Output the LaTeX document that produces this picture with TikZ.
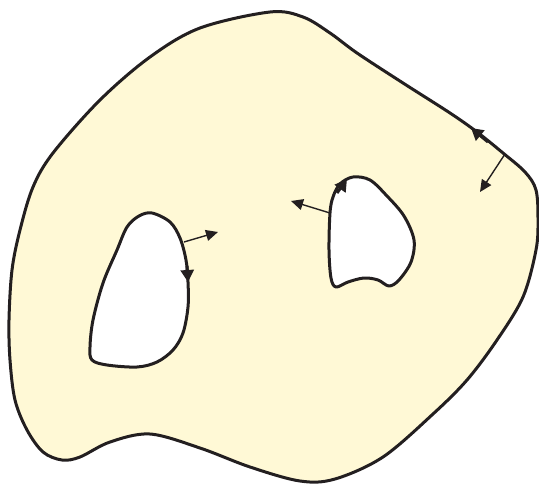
\documentclass[tikz,border=0pt]{standalone}
\usetikzlibrary{arrows.meta}
\definecolor{fillyellow}{RGB}{255,249,214}
\definecolor{ink}{RGB}{35,31,32}
\begin{document}
\begin{tikzpicture}[x=1pt,y=-1pt,
  boundary/.style={line width=3pt, draw=ink, line join=round},
  normalarrow/.style={line width=1.4pt, draw=ink, -{Triangle[length=12pt,width=11pt]}},
  tangentarrow/.style={line width=3pt, draw=ink, -{Triangle[length=12pt,width=13pt]}}]
\useasboundingbox (0,0) rectangle (539,485);
\def\outerpts{(270,12) (303,17) (330,33) (357,53) (403,83) (450,113) (477,132) (503,153) (525,172) (536,190) (538,220) (536,250) (523,297) (497,340) (467,380) (433,414) (383,457) (335,479) (300,481) (250,467) (200,448) (150,434) (110,442) (80,457) (62,460) (43,452) (27,430) (15,400) (10,360) (9,320) (12,270) (20,230) (33,187) (53,153) (100,100) (150,57) (200,28)}
\def\holeApts{(152,213) (170,222) (180,238) (186,260) (188,282) (188,307) (183,333) (173,350) (157,362) (137,367) (107,365) (92,360) (90,347) (93,320) (103,283) (117,250) (127,227) (139,216)}
\def\holeBpts{(353,177) (370,180) (387,196) (404,216) (414,240) (411,262) (399,280) (389,286) (378,280) (364,278) (348,282) (336,287) (331,278) (329,250) (330,213) (333,197) (340,184)}
\fill[fillyellow, even odd rule]
  plot[smooth cycle, tension=0.55] coordinates {\outerpts}
  plot[smooth cycle, tension=0.55] coordinates {\holeApts}
  plot[smooth cycle, tension=0.55] coordinates {\holeBpts};
\draw[boundary] plot[smooth cycle, tension=0.55] coordinates {\outerpts};
\draw[boundary] plot[smooth cycle, tension=0.55] coordinates {\holeApts};
\draw[boundary] plot[smooth cycle, tension=0.55] coordinates {\holeBpts};
% tangent arrows
\coordinate (tOs) at (488,142);
\coordinate (tOe) at (471,128);
\coordinate (tAs) at (187,266);
\coordinate (tAe) at (188,282);
\coordinate (tBs) at (337,193);
\coordinate (tBe) at (347,179);
\draw[tangentarrow] (tOs) -- (tOe);
\draw[tangentarrow] (tAs) -- (tAe);
\draw[tangentarrow] (tBs) -- (tBe);
% normal arrows
\coordinate (nOs) at (505,154);
\coordinate (nOe) at (480,192);
\coordinate (nAs) at (184,242);
\coordinate (nAe) at (218,232);
\coordinate (nBs) at (330,213);
\coordinate (nBe) at (291,201);
\draw[normalarrow] (nOs) -- (nOe);
\draw[normalarrow] (nAs) -- (nAe);
\draw[normalarrow] (nBs) -- (nBe);
\end{tikzpicture}
\end{document}
